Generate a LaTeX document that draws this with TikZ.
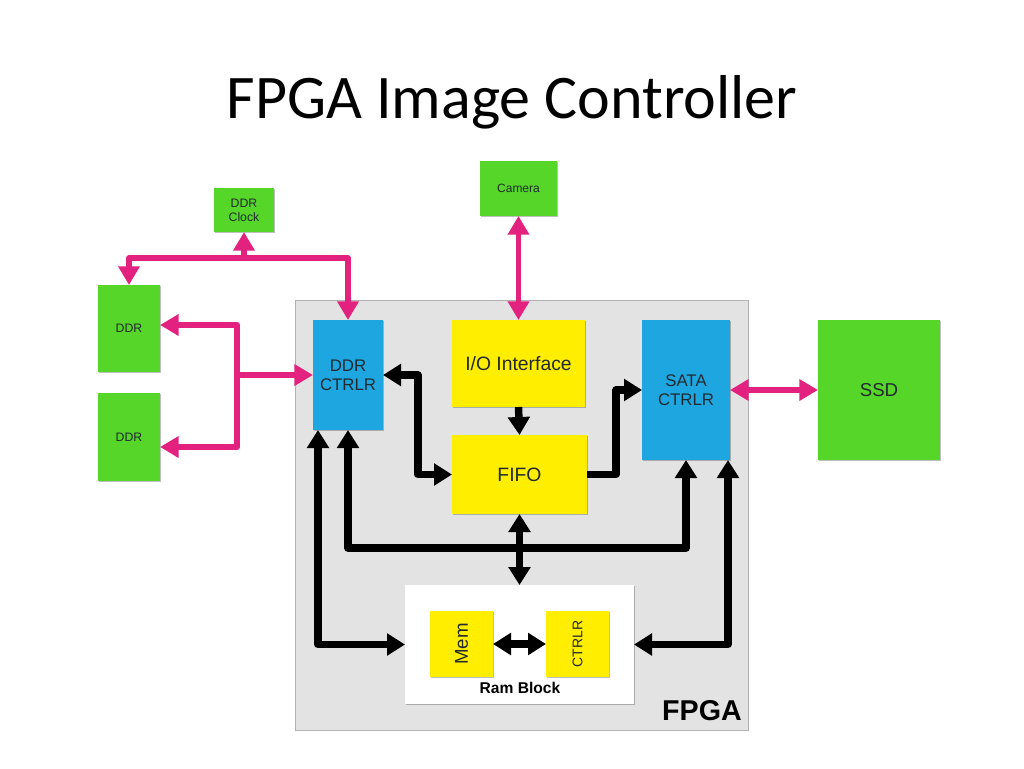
\documentclass[tikz,border=0pt]{standalone}
\usepackage{fontspec}
\setmainfont{Liberation Sans}
\newfontfamily\titlefont{Carlito}
\usetikzlibrary{arrows.meta,calc,shadows}
\definecolor{gbox}{HTML}{55D628}
\definecolor{bbox}{HTML}{1EA6E0}
\definecolor{ybox}{HTML}{FFEE00}
\definecolor{pk}{HTML}{E3217F}
\definecolor{fpgagray}{HTML}{E3E3E3}
\definecolor{txt}{HTML}{222A30}
\begin{document}
\begin{tikzpicture}[x=0.75pt,y=-0.75pt,
  bx/.style 2 args={rectangle, inner sep=0pt, outer sep=0pt,
    minimum width=#1*0.75pt, minimum height=#2*0.75pt, align=center, text=txt},
  shd/.style={drop shadow={shadow xshift=0.8pt,shadow yshift=-0.8pt,opacity=0.25,fill=black}},
  green/.style={fill=gbox,shd},
  blue/.style={fill=bbox,shd},
  yel/.style={fill=ybox,shd},
  pkline/.style={draw=pk,line width=4.3pt,line join=round,
    >={Triangle[length=14pt,width=15.5pt]}},
  bkline/.style={draw=black,line width=5.6pt,line join=round,
    >={Triangle[length=13.5pt,width=16pt]}},
]
\useasboundingbox (0,0) rectangle (1024,768);
\node[text=black, font=\titlefont\fontsize{46.5}{50}\selectfont] (title) at (512,102) {FPGA Image Controller};

% FPGA area
\node[bx={453}{430}, fill=fpgagray, draw=black!30, line width=0.6pt] (fpga) at (521.5,515) {};
\node[text=black, font=\fontsize{21.5}{24}\selectfont\bfseries] (fpgalbl) at (702,711) {FPGA};

% outside boxes
\node[bx={60}{44}, green, font=\fontsize{9.2}{10.5}\selectfont] (ddrclk) at (244,210) {DDR\\Clock};
\node[bx={77}{55}, green, font=\fontsize{9}{10}\selectfont] (cam) at (518.5,188.5) {Camera};
\node[bx={62}{87}, green, font=\fontsize{9.2}{10}\selectfont] (ddr1) at (129,328.5) {DDR};
\node[bx={62}{88}, green, font=\fontsize{9.2}{10}\selectfont] (ddr2) at (129,437) {DDR};
\node[bx={122}{140}, green, font=\fontsize{14}{16}\selectfont] (ssd) at (879,390) {SSD};

% inside boxes
\node[bx={70}{110}, blue, font=\fontsize{12.6}{14.5}\selectfont] (ddrc) at (348,375) {DDR\\CTRLR};
\node[bx={133}{87}, yel, font=\fontsize{14.5}{16}\selectfont] (io) at (518.5,363.5) {I/O Interface};
\node[bx={135}{79}, yel, font=\fontsize{14.5}{16}\selectfont] (fifo) at (519.5,474.5) {FIFO};
\node[bx={88}{140}, blue, font=\fontsize{12.6}{14.5}\selectfont] (sata) at (686,390) {SATA\\CTRLR};

% ram block
\node[bx={229}{119}, fill=white, shd] (ram) at (519.5,644.5) {};
\node[bx={63}{66}, yel] (mem) at (461.5,644) {};
\node[bx={63}{66}, yel] (ctl) at (577.5,644) {};
\node[rotate=90, text=txt, font=\fontsize{14}{16}\selectfont] (memlbl) at (mem.center) {Mem};
\node[rotate=90, text=txt, font=\fontsize{10.5}{12}\selectfont] (ctllbl) at (ctl.center) {CTRLR};
\node[text=black, font=\fontsize{11.7}{13}\selectfont\bfseries] (ramlbl) at (520,688) {Ram Block};

% pink connectors
\draw[pkline,<->] (ddr1.north) |- (ddrc.north |- 0,258) -- (ddrc.north);
\draw[pkline,->] (ddrclk.south |- 0,258) -- (ddrclk.south);
\draw[pkline,<->] (ddr1.east |- 0,325) -| (237,447) -- (ddr2.east |- 0,447);
\draw[pkline,->] (237,375) -- (ddrc.west);
\draw[pkline,<->] (cam.south) -- (io.north);
\draw[pkline,<->] (sata.east) -- (ssd.west);

% black connectors
\draw[bkline,<->] (ddrc.east) -- ++(35,0) |- (fifo.west);
\draw[bkline,->] (io.south) -- (fifo.north);
\draw[bkline,->] (fifo.east) -- ++(29,0) |- (sata.west);
\draw[bkline,<->] (ddrc.south) |- (sata.south |- 0,548) -- (sata.south);
\draw[bkline,<->] (fifo.south) -- (ram.north);
\draw[bkline,<->] ($(ddrc.south west)+(5,0)$) |- (ram.west);
\draw[bkline,<->] ($(sata.south east)+(-2,0)$) |- (ram.east);
\draw[bkline,<->] (mem.east) -- (ctl.west);
\end{tikzpicture}
\end{document}
